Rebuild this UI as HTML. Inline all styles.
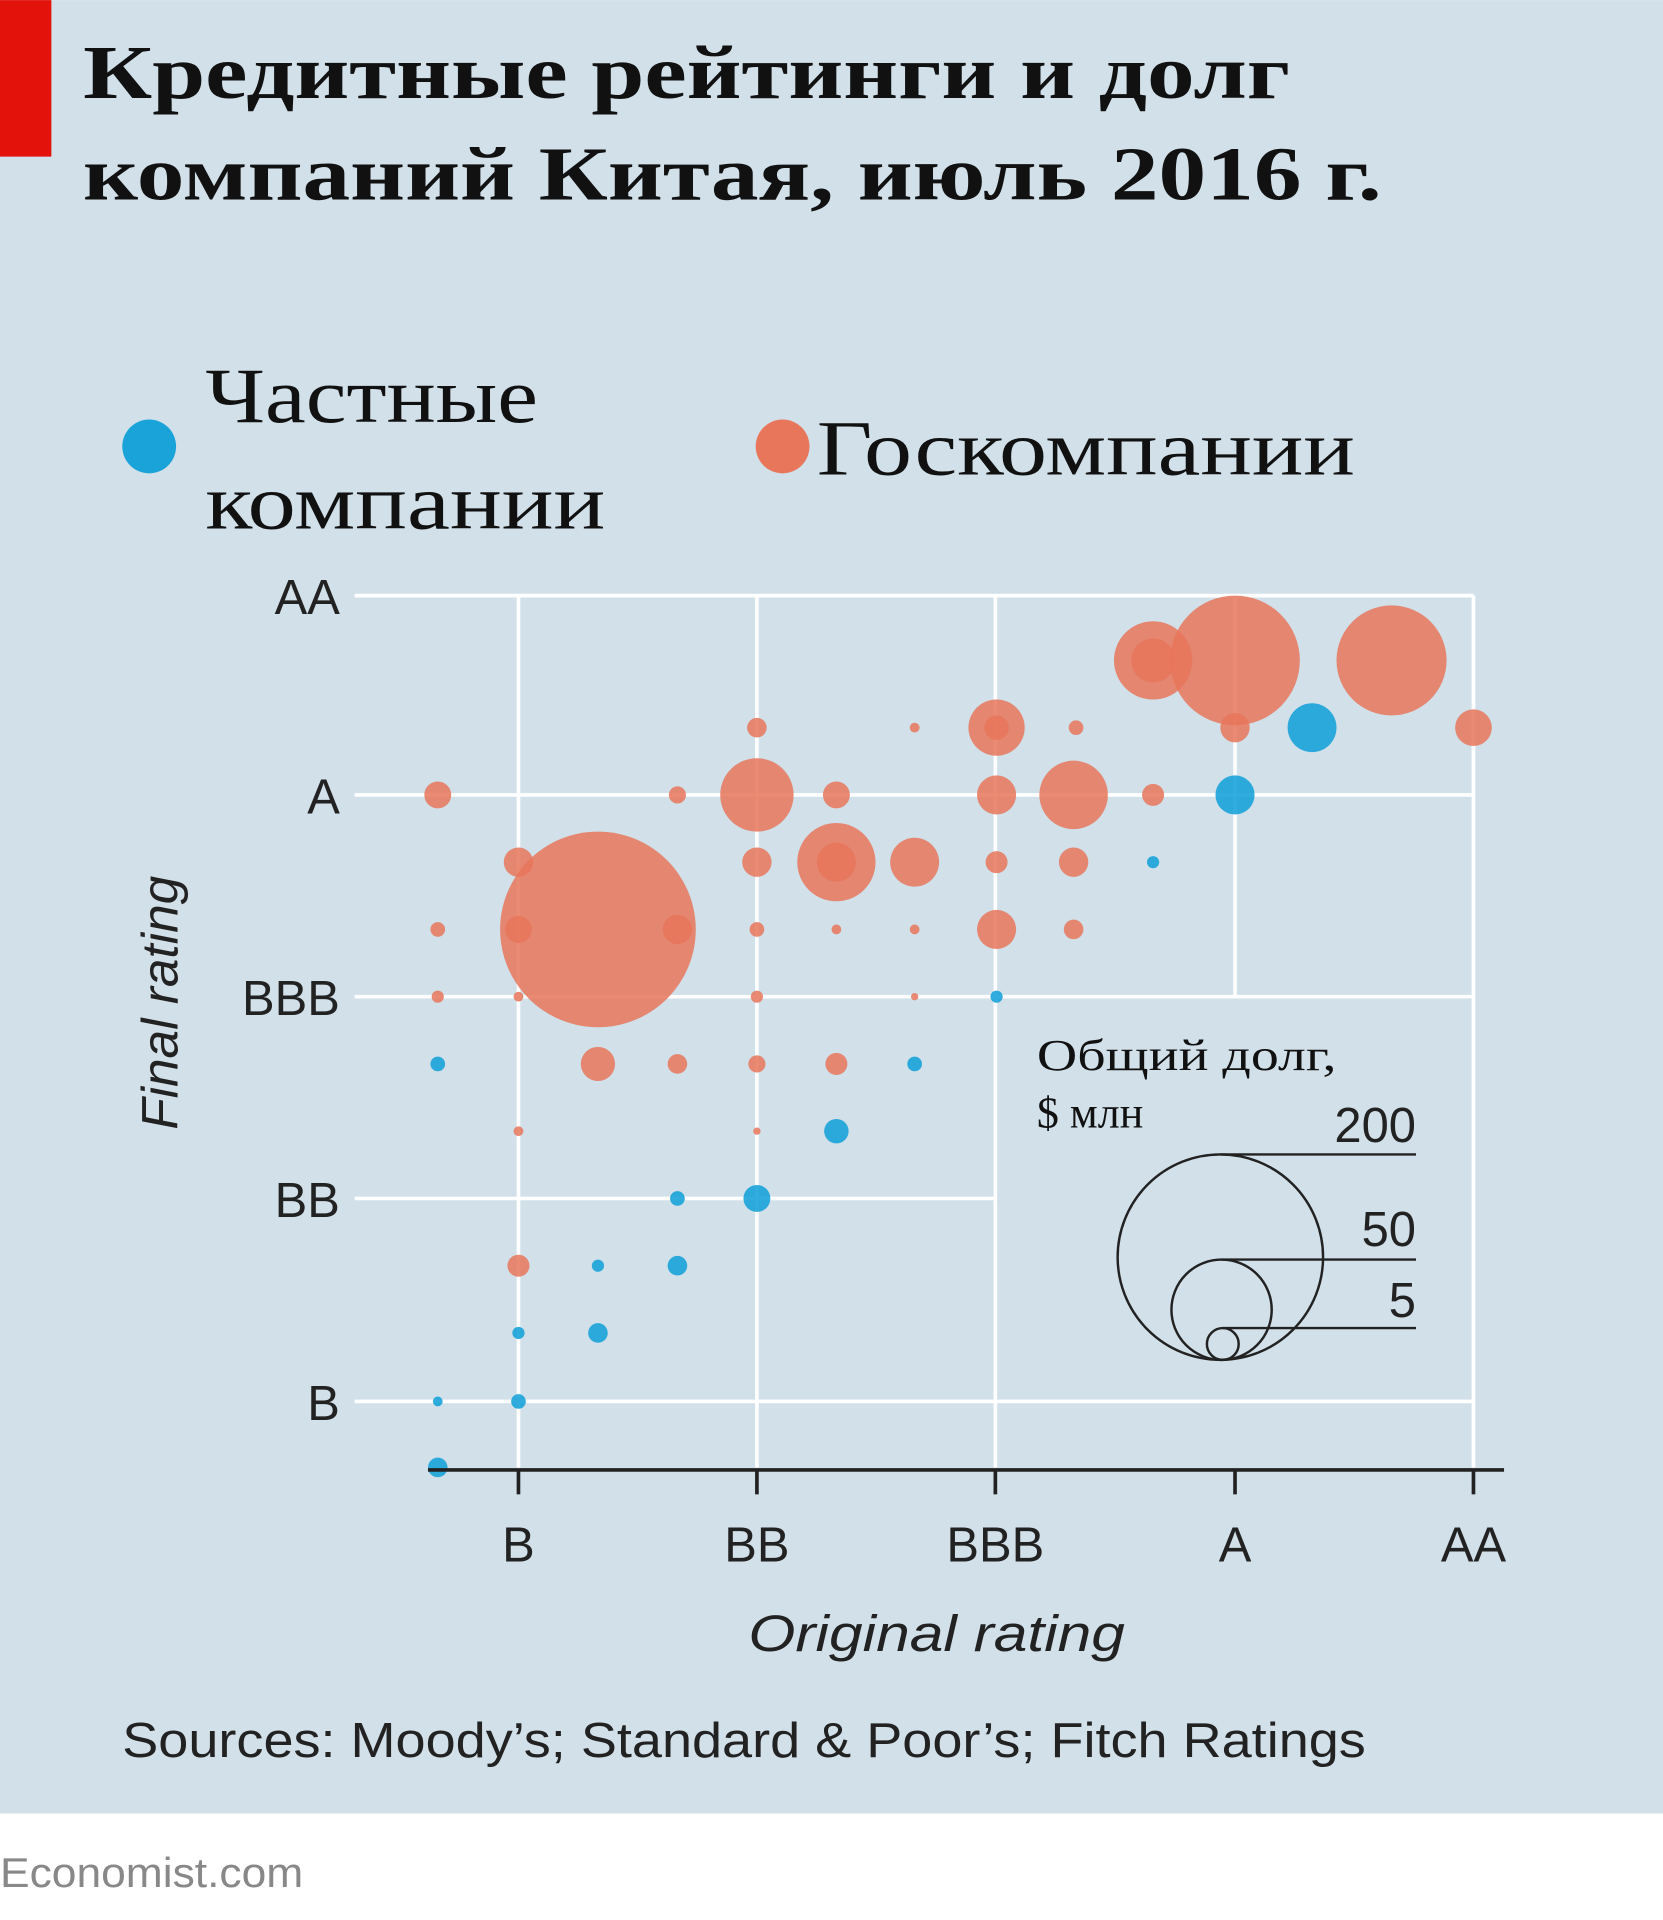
<!DOCTYPE html>
<html><head><meta charset="utf-8"><style>
html,body{margin:0;padding:0;background:#fff}
svg{display:block}
</style></head><body>
<svg width="1663" height="1920" viewBox="0 0 1360 1570" xmlns="http://www.w3.org/2000/svg">
<rect x="0" y="0" width="1360" height="1483" fill="#d1e0e9"/>
<rect x="0" y="0" width="42" height="128" fill="#e3120b"/>
<g font-family="Liberation Serif, serif" font-weight="bold" font-size="62" fill="#111">
<text x="68" y="80" textLength="987" lengthAdjust="spacingAndGlyphs">Кредитные рейтинги и долг</text>
<text x="68" y="163" textLength="1062" lengthAdjust="spacingAndGlyphs">компаний Китая, июль 2016 г.</text>
</g>
<circle cx="122" cy="365" r="22" fill="#1aa3d9"/>
<circle cx="640" cy="365" r="22" fill="#e8765a"/>
<g font-family="Liberation Serif, serif" font-size="64" fill="#111">
<text x="168" y="345" textLength="272" lengthAdjust="spacingAndGlyphs">Частные</text>
<text x="168" y="432" textLength="327" lengthAdjust="spacingAndGlyphs">компании</text>
<text x="668" y="388" textLength="440" lengthAdjust="spacingAndGlyphs">Госкомпании</text>
</g>
<g stroke="#fff" stroke-width="3">
<line x1="290" y1="487" x2="1205" y2="487"/>
<line x1="290" y1="650" x2="1205" y2="650"/>
<line x1="290" y1="815" x2="1205" y2="815"/>
<line x1="290" y1="980" x2="814" y2="980"/>
<line x1="290" y1="1146" x2="1205" y2="1146"/>
<line x1="424" y1="487" x2="424" y2="1200"/>
<line x1="619" y1="487" x2="619" y2="1200"/>
<line x1="814" y1="487" x2="814" y2="1200"/>
<line x1="1010" y1="487" x2="1010" y2="815"/>
<line x1="1205" y1="487" x2="1205" y2="1200"/>
</g>
<g fill="#e8765a" fill-opacity="0.85">
<circle cx="1010" cy="540" r="53"/><circle cx="1138" cy="540" r="45"/>
<circle cx="943" cy="540" r="32"/><circle cx="943" cy="540" r="18"/>
<circle cx="1010" cy="595" r="12"/><circle cx="1205" cy="595" r="15"/>
<circle cx="815" cy="595" r="23"/><circle cx="815" cy="595" r="10"/>
<circle cx="880" cy="595" r="6"/><circle cx="748" cy="595" r="4"/><circle cx="619" cy="595" r="8"/>
<circle cx="358" cy="650" r="11"/><circle cx="554" cy="650" r="7"/><circle cx="619" cy="650" r="30"/>
<circle cx="684" cy="650" r="11"/><circle cx="815" cy="650" r="16"/><circle cx="878" cy="650" r="28"/><circle cx="943" cy="650" r="9"/>
<circle cx="424" cy="705" r="12"/><circle cx="619" cy="705" r="12"/><circle cx="684" cy="705" r="32"/><circle cx="684" cy="705" r="16"/>
<circle cx="748" cy="705" r="20"/><circle cx="815" cy="705" r="9"/><circle cx="878" cy="705" r="12"/>
<circle cx="489" cy="760" r="80"/><circle cx="358" cy="760" r="6"/><circle cx="424" cy="760" r="11"/><circle cx="554" cy="760" r="12"/>
<circle cx="619" cy="760" r="6"/><circle cx="684" cy="760" r="4"/><circle cx="748" cy="760" r="4"/><circle cx="815" cy="760" r="16"/><circle cx="878" cy="760" r="8"/>
<circle cx="358" cy="815" r="5"/><circle cx="424" cy="815" r="4"/><circle cx="619" cy="815" r="5"/><circle cx="748" cy="815" r="3"/>
<circle cx="489" cy="870" r="14"/><circle cx="554" cy="870" r="8"/><circle cx="619" cy="870" r="7"/><circle cx="684" cy="870" r="9"/>
<circle cx="424" cy="925" r="4"/><circle cx="619" cy="925" r="3"/><circle cx="424" cy="1035" r="9"/>
</g>
<g fill="#1aa3d9" fill-opacity="0.9">
<circle cx="1073" cy="595" r="20"/><circle cx="1010" cy="650" r="16"/><circle cx="943" cy="705" r="5"/>
<circle cx="815" cy="815" r="5"/><circle cx="358" cy="870" r="6"/><circle cx="748" cy="870" r="6"/>
<circle cx="684" cy="925" r="10"/><circle cx="554" cy="980" r="6"/><circle cx="619" cy="980" r="11"/>
<circle cx="489" cy="1035" r="5"/><circle cx="554" cy="1035" r="8"/><circle cx="424" cy="1090" r="5"/>
<circle cx="489" cy="1090" r="8"/><circle cx="358" cy="1146" r="4"/><circle cx="424" cy="1146" r="6"/><circle cx="358" cy="1200" r="8"/>
</g>
<g stroke="#222" stroke-width="3">
<line x1="350" y1="1202" x2="1230" y2="1202"/>
<line x1="424" y1="1202" x2="424" y2="1222"/><line x1="619" y1="1202" x2="619" y2="1222"/>
<line x1="814" y1="1202" x2="814" y2="1222"/><line x1="1010" y1="1202" x2="1010" y2="1222"/><line x1="1205" y1="1202" x2="1205" y2="1222"/>
</g>
<g font-family="Liberation Sans, sans-serif" font-size="40" fill="#222">
<text x="278" y="502" text-anchor="end">AA</text>
<text x="278" y="665" text-anchor="end">A</text>
<text x="278" y="830" text-anchor="end">BBB</text>
<text x="278" y="995" text-anchor="end">BB</text>
<text x="278" y="1161" text-anchor="end">B</text>
<text x="424" y="1277" text-anchor="middle">B</text>
<text x="619" y="1277" text-anchor="middle">BB</text>
<text x="814" y="1277" text-anchor="middle">BBB</text>
<text x="1010" y="1277" text-anchor="middle">A</text>
<text x="1205" y="1277" text-anchor="middle">AA</text>
<text x="612" y="1350" font-style="italic" font-size="42" textLength="308" lengthAdjust="spacingAndGlyphs">Original rating</text>
<text transform="translate(145,820) rotate(-90)" text-anchor="middle" font-style="italic" font-size="42">Final rating</text>
<text x="100" y="1437" font-size="40" textLength="1017" lengthAdjust="spacingAndGlyphs">Sources: Moody’s; Standard &amp; Poor’s; Fitch Ratings</text>
</g>
<text x="0" y="1543" font-family="Liberation Sans, sans-serif" font-size="34" fill="#888" textLength="248" lengthAdjust="spacingAndGlyphs">Economist.com</text>
<g font-family="Liberation Serif, serif" font-size="36" fill="#111">
<text x="848" y="875" textLength="245" lengthAdjust="spacingAndGlyphs">Общий долг,</text>
<text x="848" y="922">$ млн</text>
</g>
<g fill="none" stroke="#222" stroke-width="2">
<circle cx="998" cy="1028" r="84"/>
<circle cx="999" cy="1071" r="41"/>
<circle cx="1000" cy="1099" r="13"/>
<line x1="998" y1="944" x2="1158" y2="944"/>
<line x1="999" y1="1030" x2="1158" y2="1030"/>
<line x1="1000" y1="1086" x2="1158" y2="1086"/>
</g>
<g font-family="Liberation Sans, sans-serif" font-size="40" fill="#222" text-anchor="end">
<text x="1158" y="934">200</text>
<text x="1158" y="1019">50</text>
<text x="1158" y="1077">5</text>
</g>
</svg>
</body></html>
